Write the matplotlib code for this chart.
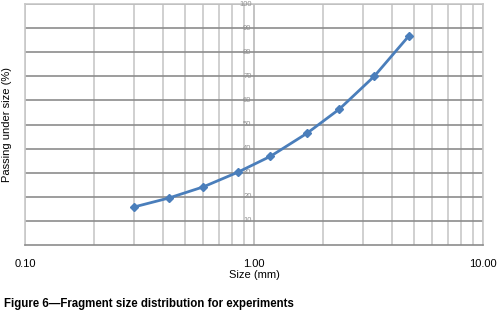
import matplotlib.pyplot as plt
from matplotlib.ticker import FixedLocator, NullFormatter, LogLocator

plt.rcParams['font.family'] = ['Liberation Sans', 'DejaVu Sans']

size_mm = [0.3, 0.425, 0.6, 0.85, 1.18, 1.7, 2.36, 3.35, 4.75]
passing = [15.8, 19.5, 24.1, 30.2, 36.8, 46.3, 56.4, 70.0, 86.8]
x_ticks = [0.1, 1.0, 10.0]
x_tick_labels = ['0.10', '1.00', '10.00']
y_ticks = list(range(10, 101, 10))

fig = plt.figure(figsize=(4.98, 3.18), dpi=100)
ax = fig.add_axes([25 / 498, 1 - 245 / 318, (483 - 25) / 498, (245 - 4) / 318])

ax.set_xscale('log')
ax.set_xlim(0.1, 10)
ax.set_ylim(0, 100)

ax.xaxis.set_major_locator(FixedLocator(x_ticks))
ax.set_xticklabels(x_tick_labels)
ax.xaxis.set_minor_locator(LogLocator(base=10, subs=range(2, 10)))
ax.xaxis.set_minor_formatter(NullFormatter())
ax.tick_params(axis='x', which='both', length=0, labelsize=8, pad=10)

ax.grid(True, axis='x', which='both', color='#c8c8c8', lw=1.2)
ax.grid(True, axis='y', which='major', color='#8c8c8c', lw=1.2)
ax.set_yticks(y_ticks)
ax.set_yticklabels([])
ax.tick_params(axis='y', length=0)

# y tick labels sit on the x = 1 line
for v in y_ticks:
    ax.text(0.975, v, str(v), ha='right', va='center', fontsize=5.5, color='#909090')
ax.axvline(1.0, color='#a8a8a8', lw=1.2, zorder=1)

for s in ['left', 'right', 'top']:
    ax.spines[s].set_color('#c8c8c8')
    ax.spines[s].set_linewidth(1.2)
ax.spines['bottom'].set_color('#8c8c8c')
ax.spines['bottom'].set_linewidth(1.2)

ax.plot(size_mm, passing, color='#4a7ebb', lw=2, marker='D', ms=4, zorder=3)

ax.set_xlabel('Size (mm)', fontsize=8, labelpad=1)
ax.set_ylabel('Passing under size (%)', fontsize=8, labelpad=6)

fig.text(4 / 498, 1 - 304 / 318, 'Figure 6\u2014Fragment size distribution for experiments',
         fontsize=8.3, fontweight='bold', va='center', ha='left')

fig.savefig('out.png', dpi=100)
